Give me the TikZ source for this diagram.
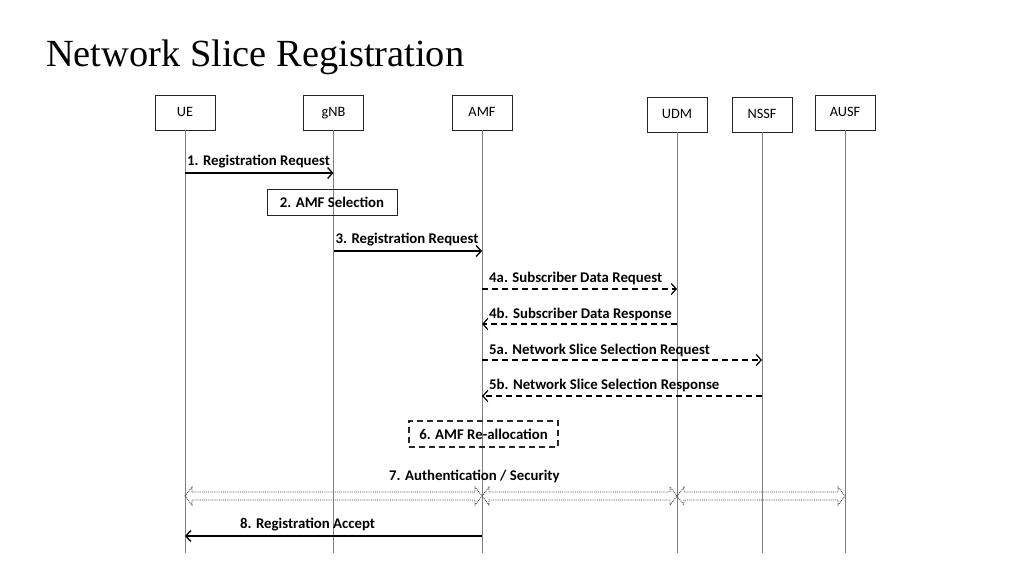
\documentclass[tikz,border=0pt]{standalone}
\usepackage{fontspec}
\setmainfont{Carlito}
\newfontfamily\titlefont{Liberation Serif}
\usetikzlibrary{calc,arrows.meta}
\newcommand\secarrow[3]{%
% hollow dotted double arrow between two lifelines on row #3
    \draw[secline] (#1 |- #3) -- ++(7,-9) -- ++(0,5)
    -- ($(#2 |- #3)+(-7,-4)$) -- ++(0,-5)
    -- (#2 |- #3) -- ++(-7,9) -- ++(0,-5)
    -- ($(#1 |- #3)+(7,4)$) -- ++(0,5) -- cycle;
    }
\begin{document}
\begin{tikzpicture}[x=1pt,y=-1pt,
    entity/.style={draw=black!85,line width=0.8pt,minimum width=60pt,minimum height=35pt,inner sep=0pt,text height=10pt,text depth=3pt,font=\fontsize{14.3}{16}\selectfont},
    life/.style={draw=black!50,line width=0.8pt},
    msg/.style={draw=black,line width=1.3pt,-{Straight Barb[length=5pt,width=11pt]}},
    reply/.style={draw=black,line width=1.2pt,dash pattern=on 6pt off 4pt,-{Straight Barb[length=5pt,width=11pt]}},
    lbl/.style={anchor=base west,inner sep=0pt,font=\bfseries\fontsize{14.8}{17}\selectfont},
    stepbox/.style={draw=black!85,line width=1pt,inner sep=0pt,font=\bfseries\fontsize{14.8}{17}\selectfont},
    secline/.style={draw=black!75,line width=0.9pt,densely dotted}]
    \useasboundingbox[fill=white] (0,0) rectangle (1024,576);
    \node[anchor=base west,inner sep=0pt,font=\titlefont\fontsize{38.4}{44}\selectfont] (title) at (46,66) {Network Slice Registration};

    % the entities
    \node[entity] (ue) at (185,112.5) {UE};
    \node[entity] (gnb) at (333.5,112.5) {gNB};
    \node[entity] (amf) at (482,112.5) {AMF};
    \node[entity] (udm) at (677,114.5) {UDM};
    \node[entity] (nssf) at (762,114.5) {NSSF};
    \node[entity] (ausf) at (845,112.5) {AUSF};

    % rows of the messages
    \coordinate (bot) at (0,553);
    \coordinate (r1) at (0,173);
    \coordinate (r3) at (0,251);
    \coordinate (r4a) at (0,289);
    \coordinate (r4b) at (0,324);
    \coordinate (r5a) at (0,360);
    \coordinate (r5b) at (0,396);
    \coordinate (r7) at (0,496);
    \coordinate (r8) at (0,536);

    \foreach \e in {ue,gnb,amf,udm,nssf,ausf}
        \draw[life] (\e.south) -- (\e.south |- bot);

    \draw[msg] (ue |- r1) -- (gnb |- r1);
    \node[lbl] (l1) at (187,165) {1. Registration Request};

    \node[stepbox,minimum width=130pt,minimum height=26pt] (sel) at (332,202) {2. AMF Selection};

    \draw[msg] (gnb |- r3) -- (amf |- r3);
    \node[lbl] (l3) at (335.5,243) {3. Registration Request};

    \draw[reply] (amf |- r4a) -- (udm |- r4a);
    \node[lbl] (l4a) at (489,282) {4a. Subscriber Data Request};
    \draw[reply] (udm |- r4b) -- (amf |- r4b);
    \node[lbl] (l4b) at (489,318) {4b. Subscriber Data Response};
    \draw[reply] (amf |- r5a) -- (nssf |- r5a);
    \node[lbl] (l5a) at (489,354) {5a. Network Slice Selection Request};
    \draw[reply] (nssf |- r5b) -- (amf |- r5b);
    \node[lbl] (l5b) at (489,389) {5b. Network Slice Selection Response};

    \node[stepbox,line width=1.3pt,dash pattern=on 6pt off 4pt,minimum width=149pt,minimum height=26pt] (realloc) at (483.5,434) {6. AMF Re-allocation};

    \node[lbl] (l7) at (389,480) {7. Authentication / Security};
    \secarrow{ue}{amf}{r7}
    \secarrow{amf}{udm}{r7}
    \secarrow{udm}{ausf}{r7}

    \draw[msg] (amf |- r8) -- (ue |- r8);
    \node[lbl] (l8) at (240,528) {8. Registration Accept};
\end{tikzpicture}
\end{document}
